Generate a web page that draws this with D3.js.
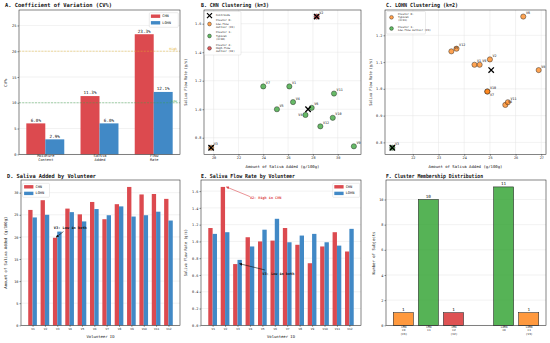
<!DOCTYPE html>
<html><head><meta charset="utf-8">
<script src="https://cdn.jsdelivr.net/npm/d3@7/dist/d3.min.js"></script>
<style>
body{margin:0;background:#fff}
svg{display:block}
</style></head><body><svg id="c" width="550" height="343"></svg>
<script>
// ---------------- data ----------------
const volunteers = ["V1","V2","V3","V4","V5","V6","V7","V8","V9","V10","V11","V12"];
const chnAdded  = [26.1,28.3,19.8,26.4,25.1,27.9,24.0,27.4,31.3,29.6,29.7,28.6];
const lohnAdded = [24.4,25.0,21.2,25.6,23.5,26.3,24.9,26.9,24.6,24.9,25.7,23.7];
const chnFlow   = [1.16,1.65,0.73,1.05,1.00,1.01,1.16,0.96,0.74,0.94,1.11,0.88];
const lohnFlow  = [1.09,1.11,0.78,0.94,1.14,1.27,0.99,1.07,1.09,0.99,0.95,1.15];
const cvMetrics = ["Moisture\nContent","Saliva\nAdded","Flow\nRate"];
const cvCHN  = [6.0,11.3,23.3];
const cvLOHN = [2.9,6.0,12.1];
const cvThresholds = [20,10];
const cvThresholdLabels = ["High","Low"];
const chnClusters  = [1,2,0,1,1,1,1,1,1,1,1,1];
const lohnClusters = [0,0,1,0,0,0,0,0,0,0,0,0];
const chnCentroids  = [[19.8,0.73],[27.61,1.00],[28.3,1.65]];
const lohnCentroids = [[25.05,1.07],[21.2,0.78]];
const memberLabels = ["CHN\nC0\n(V3)","CHN\nC1","CHN\nC2\n(V2)","LOHN\nC0","LOHN\nC1\n(V3)"];
const memberCounts = [1,10,1,11,1];
const memberPos    = [0,1,2,4,5];

// ---------------- style ----------------
const FONT = "'DejaVu Sans Mono', 'Liberation Mono', monospace";
const RED = "#dc4a4f", BLUE = "#4189c6";
const ORANGE = "#ff7f0e", GREEN = "#2ca02c", CRED = "#d62728";
const INK = "#222";
const GRID = "#e4e4e4";

const svg = d3.select("#c").attr("font-family", FONT);
svg.append("rect").attr("width",550).attr("height",343).attr("fill","#fff");
const defs = svg.append("defs");
function marker(id, color){
  defs.append("marker").attr("id",id).attr("viewBox","0 0 6 6").attr("refX",5.5).attr("refY",3)
    .attr("markerWidth",3).attr("markerHeight",3).attr("markerUnits","userSpaceOnUse").attr("orient","auto")
    .append("path").attr("d","M0,0 L6,3 L0,6 Z").attr("fill",color);
}
marker("ahBlack","#111"); marker("ahRed", RED);

function fit(sel, w){ sel.attr("textLength", w).attr("lengthAdjust","spacingAndGlyphs"); return sel; }
function frame(b){
  svg.append("rect").attr("x",b.x0).attr("y",b.y0).attr("width",b.x1-b.x0).attr("height",b.y1-b.y0)
    .attr("fill","none").attr("stroke",INK).attr("stroke-width",0.55);
}
function styleAxis(g, fs){
  g.attr("font-family",FONT).attr("font-size",fs);
  g.select(".domain").remove();
  g.selectAll(".tick line").attr("stroke",INK).attr("stroke-width",0.5);
  g.selectAll(".tick text").attr("fill",INK);
}
function xAxis(b, x, ticks, fmt, fs){
  const g = svg.append("g").attr("transform",`translate(0,${b.y1})`)
    .call(d3.axisBottom(x).tickValues(ticks).tickFormat(fmt).tickSize(1.5).tickPadding(1.1));
  styleAxis(g, fs);
  return g;
}
function yAxis(b, y, ticks, fmt, fs){
  const g = svg.append("g").attr("transform",`translate(${b.x0},0)`)
    .call(d3.axisLeft(y).tickValues(ticks).tickFormat(fmt).tickSize(1.5).tickPadding(1.1));
  styleAxis(g, fs);
  return g;
}
function multiline(g, lh){
  g.selectAll(".tick text").each(function(){
    const t = d3.select(this); const lines = t.text().split("\n"); t.text(null);
    lines.forEach((l,i)=> t.append("tspan").attr("x",0).attr("dy", i===0 ? 0 : lh).text(l));
  });
}
function grid(b, x, y, xt, yt){
  const g = svg.append("g").attr("stroke",GRID).attr("stroke-width",0.5);
  if (yt) yt.forEach(v=> g.append("line").attr("x1",b.x0).attr("x2",b.x1).attr("y1",y(v)).attr("y2",y(v)));
  if (xt) xt.forEach(v=> g.append("line").attr("y1",b.y0).attr("y2",b.y1).attr("x1",x(v)).attr("x2",x(v)));
}
function title(x, y, s, w){
  fit(svg.append("text").attr("x",x).attr("y",y).attr("font-size",5.6).attr("font-weight","bold").attr("fill","#111").text(s), w);
}
function ylabel(x, y, s, w){
  const t = svg.append("text").attr("transform",`translate(${x},${y}) rotate(-90)`).attr("text-anchor","middle")
    .attr("dominant-baseline","middle").attr("font-size",3.9).attr("fill","#111").text(s);
  if (w) fit(t, w);
}
function xlabel(x, y, s, w){
  const t = svg.append("text").attr("x",x).attr("y",y).attr("text-anchor","middle").attr("font-size",3.9).attr("fill","#111").text(s);
  if (w) fit(t, w);
}
function barLegend(x0, y0, w, h, entries){
  const g = svg.append("g");
  g.append("rect").attr("x",x0).attr("y",y0).attr("width",w).attr("height",h).attr("rx",1)
    .attr("fill","#fff").attr("fill-opacity",0.85).attr("stroke","#cfcfcf").attr("stroke-width",0.4);
  entries.forEach((e,i)=>{
    const cy = y0 + 3.5 + i*6.6;
    g.append("rect").attr("x",x0+1.6).attr("y",cy-1.7).attr("width",9.3).attr("height",3.4).attr("fill",e.color);
    g.append("text").attr("x",x0+13).attr("y",cy).attr("dominant-baseline","middle").attr("font-size",3.6).attr("fill","#111").text(e.label);
  });
}

// ---------------- Panel A ----------------
{
  const b = {x0:19, x1:180, y0:10, y1:154.3};
  const x = d3.scaleLinear().domain([-0.485, 2.485]).range([b.x0, b.x1]);
  const y = d3.scaleLinear().domain([0, 28]).range([b.y1, b.y0]);
  const yt = [0,5,10,15,20,25];
  grid(b, x, y, null, yt);
  const w = 0.35;
  cvMetrics.forEach((m,i)=>{
    [[cvCHN[i], RED, i-w],[cvLOHN[i], BLUE, i]].forEach(([v,c,x0])=>{
      svg.append("rect").attr("x",x(x0)).attr("width",x(x0+w)-x(x0)).attr("y",y(v)).attr("height",y(0)-y(v)).attr("fill",c);
      svg.append("text").attr("x",x(x0+w/2)).attr("y",y(v)-1.6).attr("text-anchor","middle").attr("font-size",4.3).attr("fill","#111").text(v.toFixed(1)+"%");
    });
  });
  const tcol = ["#e3b22c","#3aa54a"];
  cvThresholds.forEach((t,i)=>{
    svg.append("line").attr("x1",b.x0).attr("x2",b.x1).attr("y1",y(t)).attr("y2",y(t))
      .attr("stroke",tcol[i]).attr("stroke-width",0.6).attr("stroke-dasharray","2,1.2").attr("opacity",0.75);
    svg.append("text").attr("x",b.x1-3).attr("y",y(t)-1.2).attr("text-anchor","end").attr("font-size",3.2).attr("fill",tcol[i]).text(cvThresholdLabels[i]);
  });
  frame(b);
  const gx = xAxis(b, x, [0,1,2], i=>cvMetrics[i], 3.6); multiline(gx, "1.15em");
  yAxis(b, y, yt, d3.format("d"), 3.6);
  barLegend(149.3, 12.7, 29, 14.6, [{label:"CHN",color:RED},{label:"LOHN",color:BLUE}]);
  ylabel(6, 83, "CV%", 8.5);
  title(5, 7, "A. Coefficient of Variation (CV%)", 107);
}

// ---------------- scatter panels ----------------
function scatterPanel(b, xs, ys, cl, colors, cents, xt, yt, yfmt, special, legend, ttl, tx){
  const pad = (a)=>{ const lo=d3.min(a), hi=d3.max(a), m=(hi-lo)*0.05; return [lo-m, hi+m]; };
  const x = d3.scaleLinear().domain(pad(xs)).range([b.x0, b.x1]);
  const y = d3.scaleLinear().domain(pad(ys)).range([b.y1, b.y0]);
  grid(b, x, y, xt, yt);
  xs.forEach((v,i)=>{
    svg.append("circle").attr("cx",x(v)).attr("cy",y(ys[i])).attr("r",2.6)
      .attr("fill",colors[cl[i]]).attr("fill-opacity",0.72).attr("stroke","#222").attr("stroke-width",0.45);
  });
  xs.forEach((v,i)=>{
    const s = special[volunteers[i]] || {dx:2.6, dy:-2.4, a:"start"};
    svg.append("text").attr("x",x(v)+s.dx).attr("y",y(ys[i])+s.dy).attr("text-anchor",s.a)
      .attr("font-size",3.4).attr("fill","#111").text(volunteers[i]);
  });
  cents.forEach(([cx,cy])=>{
    const px=x(cx), py=y(cy), s=2.7;
    svg.append("path").attr("d",`M${px-s},${py-s}L${px+s},${py+s}M${px-s},${py+s}L${px+s},${py-s}`)
      .attr("stroke","#000").attr("stroke-width",1.3);
  });
  frame(b);
  xAxis(b, x, xt, d3.format("d"), 3.5);
  yAxis(b, y, yt, yfmt, 3.5);
  const lg = svg.append("g");
  lg.append("rect").attr("x",legend.x).attr("y",legend.y).attr("width",legend.w).attr("height",legend.h).attr("rx",1)
    .attr("fill","#fff").attr("fill-opacity",0.85).attr("stroke","#cfcfcf").attr("stroke-width",0.4);
  legend.items.forEach(it=>{
    const mx = legend.x+5, my = it.cy;
    if (it.type==="x"){
      const s=2.5;
      lg.append("path").attr("d",`M${mx-s},${my-s}L${mx+s},${my+s}M${mx-s},${my+s}L${mx+s},${my-s}`).attr("stroke","#000").attr("stroke-width",1.2);
    } else {
      lg.append("circle").attr("cx",mx).attr("cy",my).attr("r",1.9).attr("fill",it.color).attr("fill-opacity",0.75).attr("stroke","#222").attr("stroke-width",0.4);
    }
    const n = it.lines.length, lh = 3.3;
    it.lines.forEach((l,k)=>{
      lg.append("text").attr("x",legend.x+11.5).attr("y",my+(k-(n-1)/2)*lh).attr("dominant-baseline","middle")
        .attr("font-size",2.6).attr("fill","#111").text(l);
    });
  });
  xlabel((b.x0+b.x1)/2, 167.5, "Amount of Saliva Added (g/100g)", 74);
  ylabel(tx, (b.y0+b.y1)/2, "Saliva Flow Rate (g/s)", 47);
  title(ttl.x, 7, ttl.s, ttl.w);
}

scatterPanel({x0:204, x1:361, y0:10, y1:154.3}, chnAdded, chnFlow, chnClusters, [ORANGE, GREEN, CRED], chnCentroids,
  [20,22,24,26,28,30], [0.8,1.0,1.2,1.4,1.6], d3.format(".1f"),
  {"V8":{dx:-3,dy:1.3,a:"end"}},
  {x:204.5, y:11.5, w:36.5, h:43.5, items:[
    {type:"x", cy:15.7, lines:["Centroids"]},
    {color:ORANGE, cy:24, lines:["Cluster 0:","Low-flow","outlier (V3)"]},
    {color:GREEN, cy:36, lines:["Cluster 1:","Typical","(n=10)"]},
    {color:CRED, cy:48.3, lines:["Cluster 2:","High-flow","outlier (V2)"]}]},
  {x:201, s:"B. CHN Clustering (k=3)", w:68}, 185.5);

scatterPanel({x0:385, x1:546, y0:10, y1:154.3}, lohnAdded, lohnFlow, lohnClusters, [ORANGE, GREEN], lohnCentroids,
  [22,23,24,25,26,27], [0.8,0.9,1.0,1.1,1.2], d3.format(".1f"),
  {"V7":{dx:2.6,dy:4.8,a:"start"}},
  {x:386.5, y:11.5, w:39, h:22.5, items:[
    {color:ORANGE, cy:17.3, lines:["Cluster 0:","Typical","(n=11)"]},
    {color:GREEN, cy:28.5, lines:["Cluster 1:","Low-flow outlier (V3)"]}]},
  {x:386, s:"C. LOHN Clustering (k=2)", w:72}, 370.5);

// ---------------- grouped volunteer bars ----------------
function volBars(b, a, c, ydom, yt, yfmt, ttl, ylab, ylx, ylw, legendX){
  const x = d3.scaleLinear().domain([-0.935, 11.935]).range([b.x0, b.x1]);
  const y = d3.scaleLinear().domain(ydom).range([b.y1, b.y0]);
  grid(b, x, y, null, yt);
  const w = 0.35;
  volunteers.forEach((v,i)=>{
    svg.append("rect").attr("x",x(i-w)).attr("width",x(i)-x(i-w)).attr("y",y(a[i])).attr("height",y(0)-y(a[i])).attr("fill",RED);
    svg.append("rect").attr("x",x(i)).attr("width",x(i+w)-x(i)).attr("y",y(c[i])).attr("height",y(0)-y(c[i])).attr("fill",BLUE);
  });
  frame(b);
  xAxis(b, x, d3.range(12), i=>volunteers[i], 2.9);
  yAxis(b, y, yt, yfmt, 3.5);
  barLegend(legendX, 183.3, 27, 14, [{label:"CHN",color:RED},{label:"LOHN",color:BLUE}]);
  ylabel(ylx, (b.y0+b.y1)/2, ylab, ylw);
  xlabel((b.x0+b.x1)/2, 337.5, "Volunteer ID", 28);
  title(ttl.x, 177.8, ttl.s, ttl.w);
  return {x, y};
}
function annot(s, tx, ty, ax, ay, color, mk, w){
  svg.append("line").attr("x1",ax[0]).attr("y1",ax[1]).attr("x2",ay[0]).attr("y2",ay[1])
    .attr("stroke",color).attr("stroke-width",0.6).attr("marker-end",`url(#${mk})`);
  fit(svg.append("text").attr("x",tx).attr("y",ty).attr("font-size",3.5).attr("font-weight","bold").attr("fill",color).text(s), w);
}

{
  const b = {x0:21, x1:180, y0:180, y1:325.3};
  const {x, y} = volBars(b, chnAdded, lohnAdded, [0, 32.87], [0,5,10,15,20,25,30], d3.format("d"),
    {x:7, s:"D. Saliva Added by Volunteer", w:89}, "Amount of Saliva Added (g/100g)", 5.5, 72, 22.5);
  annot("V3: Low in both", x(1.72), y(21.7), [x(2.5), y(21.2)], [x(1.9), y(19.9)], "#111", "ahBlack", 33);
}
{
  const b = {x0:201, x1:361, y0:180, y1:325.3};
  const {x, y} = volBars(b, chnFlow, lohnFlow, [0, 1.7325], [0,0.2,0.4,0.6,0.8,1.0,1.2,1.4,1.6], d3.format(".1f"),
    {x:201, s:"E. Saliva Flow Rate by Volunteer", w:94}, "Saliva Flow Rate (g/s)", 186, 47, 332.7);
  annot("V2: High in CHN", x(3), y(1.5), [x(3), y(1.535)], [x(1.1), y(1.65)], RED, "ahRed", 31.5);
  annot("V3: Low in both", x(4), y(0.6), [x(4.2), y(0.66)], [x(2.15), y(0.735)], "#111", "ahBlack", 32);
}

// ---------------- Panel F ----------------
{
  const b = {x0:386, x1:546, y0:180, y1:325.3};
  const x = d3.scaleLinear().domain([-0.69, 5.69]).range([b.x0, b.x1]);
  const y = d3.scaleLinear().domain([0, 11.55]).range([b.y1, b.y0]);
  const yt = [0,2,4,6,8,10];
  grid(b, x, y, null, yt);
  const cols = [ORANGE, GREEN, CRED, GREEN, ORANGE];
  const w = 0.8;
  memberPos.forEach((p,i)=>{
    svg.append("rect").attr("x",x(p-w/2)).attr("width",x(p+w/2)-x(p-w/2)).attr("y",y(memberCounts[i])).attr("height",y(0)-y(memberCounts[i]))
      .attr("fill",cols[i]).attr("fill-opacity",0.8).attr("stroke","#222").attr("stroke-width",0.55);
    svg.append("text").attr("x",x(p)).attr("y",y(memberCounts[i])-1.6).attr("text-anchor","middle").attr("font-size",4.3).attr("fill","#111").text(memberCounts[i]);
  });
  frame(b);
  const gx = xAxis(b, x, memberPos, (d)=>memberLabels[memberPos.indexOf(d)], 2.8); multiline(gx, "1.2em");
  yAxis(b, y, yt, d3.format("d"), 3.5);
  ylabel(374, 253, "Number of Subjects", 43);
  title(386, 177.8, "F. Cluster Membership Distribution", 97);
}
</script></body></html>
